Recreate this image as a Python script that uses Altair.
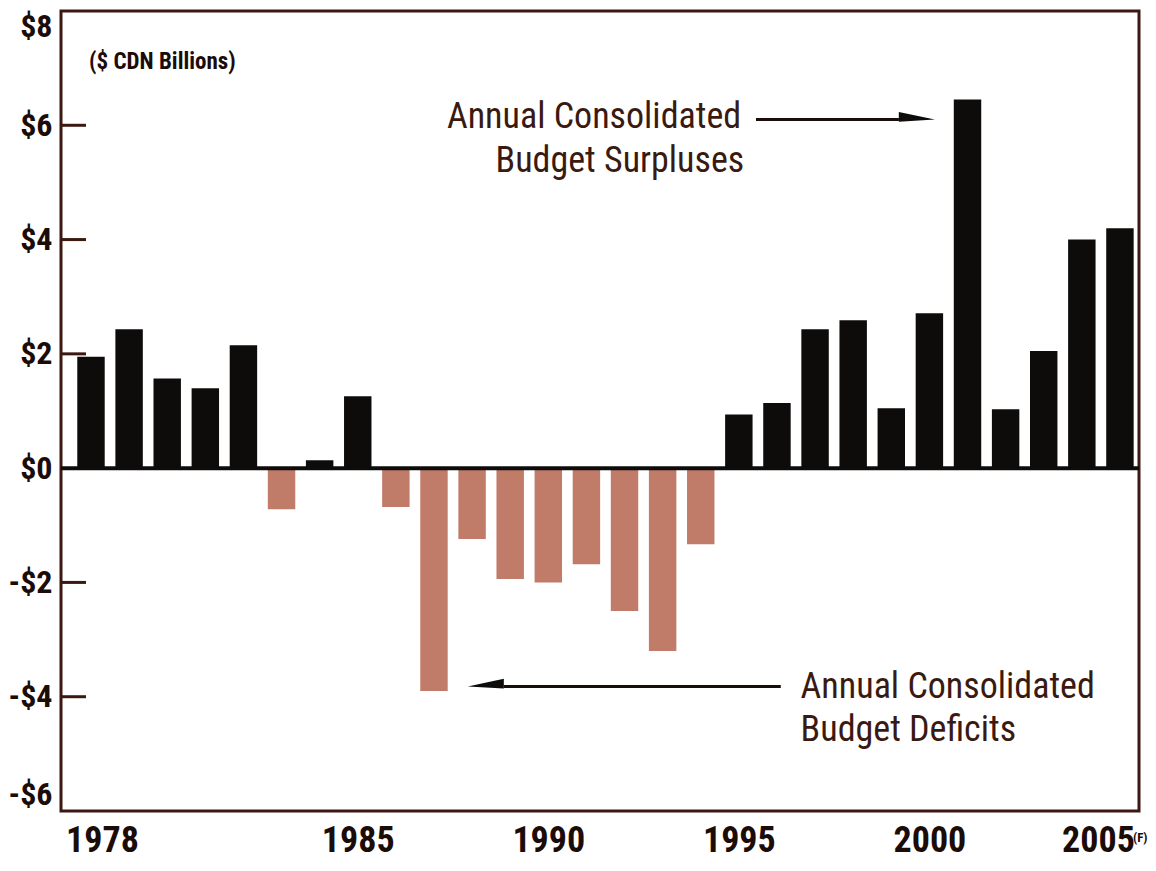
import altair as alt
import pandas as pd

years = list(range(1978, 2006))
values = [1.95, 2.43, 1.57, 1.40, 2.15, -0.72, 0.14, 1.26, -0.68, -3.90,
          -1.24, -1.94, -2.00, -1.68, -2.50, -3.20, -1.33, 0.94, 1.14, 2.43,
          2.59, 1.05, 2.71, 6.45, 1.03, 2.05, 4.00, 4.20]

x_tick_values = [1978, 1985, 1990, 1995, 2000, 2005]
y_tick_values = [-6, -4, -2, 0, 2, 4, 6, 8]
inner_ticks = [-4, -2, 2, 4, 6]

# annotation texts (data coordinates)
ann_text = ["Annual Consolidated", "Budget Surpluses", "Annual Consolidated", "Budget Deficits"]
ann_year = [1995.06, 1995.14, 1996.62, 1996.62]
ann_value = [6.14, 5.37, -3.83, -4.58]
ann_align = ["right", "right", "left", "left"]

# arrows: line start/end (years), level (value), head position
arrow_start = [1995.45, 1988.83]
arrow_end = [1999.2, 1996.1]
arrow_level = [6.10, -3.82]
head_year = [1999.67, 1988.36]
head_dir = ["right", "left"]

unit_label = "($ CDN Billions)"
unit_year = 1977.95
unit_value = 7.1

X_DOMAIN = [1977.213, 2005.50]
Y_DOMAIN = [-6, 8]

FONT_BOLD = "Liberation Sans Narrow, Roboto Condensed, DejaVu Sans Condensed, sans-serif"
DARK = "#1c0c08"
FRAME = "#3d1812"

bars_df = pd.DataFrame({"year": years, "value": values})
ann_df = pd.DataFrame({"text": ann_text, "year": ann_year, "value": ann_value, "align": ann_align})
arrow_df = pd.DataFrame({"start": arrow_start, "end": arrow_end, "level": arrow_level,
                         "head": head_year, "dir": head_dir})
ticks_df = pd.DataFrame({"v": inner_ticks})

xscale = alt.Scale(domain=X_DOMAIN, nice=False, zero=False)
yscale = alt.Scale(domain=Y_DOMAIN, nice=False, zero=False)

base = alt.Chart(bars_df)

bars = base.transform_calculate(
    x0="datum.year - 0.36", x1="datum.year + 0.36"
).mark_bar().encode(
    x=alt.X("x0:Q", scale=xscale, axis=alt.Axis(
        values=x_tick_values, title=None, ticks=False, domain=False, grid=False,
        labelExpr="'' + datum.value", labelFlush=False,
        labelFont=FONT_BOLD, labelFontWeight="bold", labelFontSize=36, labelColor=DARK,
        labelPadding=12,
        labelOffset={"expr": "datum.value == 2005 ? -22 : (datum.value == 1978 ? 11 : 0)"})),
    x2="x1:Q",
    y=alt.Y("value:Q", scale=yscale, axis=alt.Axis(
        values=y_tick_values, title=None, ticks=False, domain=False, grid=False,
        labelExpr="datum.value < 0 ? '-$' + abs(datum.value) : '$' + datum.value",
        labelFlush=True,
        labelFont=FONT_BOLD, labelFontWeight="bold", labelFontSize=32, labelColor=DARK,
        labelPadding=9)),
    y2=alt.datum(0),
    color=alt.condition(alt.datum.value > 0, alt.value("#0e0b0b"), alt.value("#b5644f")),
    opacity=alt.condition(alt.datum.value > 0, alt.value(1.0), alt.value(0.85)),
)

zero_line = base.mark_rule(color="#0e0b0b", strokeWidth=4).encode(
    y=alt.datum(0, scale=yscale)
).transform_filter("datum.year == 1978")

ytick_marks = alt.Chart(ticks_df).mark_rule(color=FRAME, strokeWidth=3).encode(
    y=alt.Y("v:Q", scale=yscale),
    x=alt.value(0), x2=alt.value(25),
)

def ann_layer(align):
    return alt.Chart(ann_df).transform_filter(f"datum.align == '{align}'").mark_text(
        font="Liberation Sans Narrow, Roboto Condensed, DejaVu Sans Condensed, sans-serif",
        fontSize=36, color="#3a1a10", baseline="middle", align=align
    ).encode(
        x=alt.X("year:Q", scale=xscale),
        y=alt.Y("value:Q", scale=yscale),
        text="text:N",
    )

arrow_lines = alt.Chart(arrow_df).mark_rule(color="#1a0c08", strokeWidth=3).encode(
    x=alt.X("start:Q", scale=xscale),
    x2="end:Q",
    y=alt.Y("level:Q", scale=yscale),
)

head_r = alt.Chart(arrow_df).transform_filter("datum.dir == 'right'").mark_point(
    shape="M -1 -0.42 L 1 0 L -1 0.12 Z", filled=True, size=1300, color="#0e0b0b", opacity=1
).encode(
    x=alt.X("head:Q", scale=xscale),
    y=alt.Y("level:Q", scale=yscale),
)

head_l = alt.Chart(arrow_df).transform_filter("datum.dir == 'left'").mark_point(
    shape="M 1 -0.42 L -1 0 L 1 0.12 Z", filled=True, size=1300, color="#0e0b0b", opacity=1
).encode(
    x=alt.X("head:Q", scale=xscale),
    y=alt.Y("level:Q", scale=yscale),
)

unit = alt.Chart(pd.DataFrame({"t": [unit_label], "x": [unit_year], "y": [unit_value]})).mark_text(
    font=FONT_BOLD, fontWeight="bold", fontSize=23, color=DARK, align="left", baseline="middle"
).encode(
    x=alt.X("x:Q", scale=xscale), y=alt.Y("y:Q", scale=yscale), text="t:N"
)

forecast = alt.Chart(pd.DataFrame({"t": ["(F)"], "x": [2005], "y": [-6]})).mark_text(
    font=FONT_BOLD, fontWeight="bold", fontSize=13, color=DARK, align="left",
    baseline="top", dx=13, dy=21
).encode(
    x=alt.X("x:Q", scale=xscale), y=alt.Y("y:Q", scale=yscale), text="t:N"
)

chart = alt.layer(
    bars, zero_line, ytick_marks, arrow_lines, head_r, head_l,
    ann_layer("right"), ann_layer("left"), unit, forecast
).properties(
    width=1078, height=800,
    padding={"left": 0, "top": 2, "right": 0, "bottom": 2},
    background="white",
).configure_view(
    stroke=FRAME, strokeWidth=3
)

chart.save("out.html", embed_options={"renderer": "svg", "actions": False})
